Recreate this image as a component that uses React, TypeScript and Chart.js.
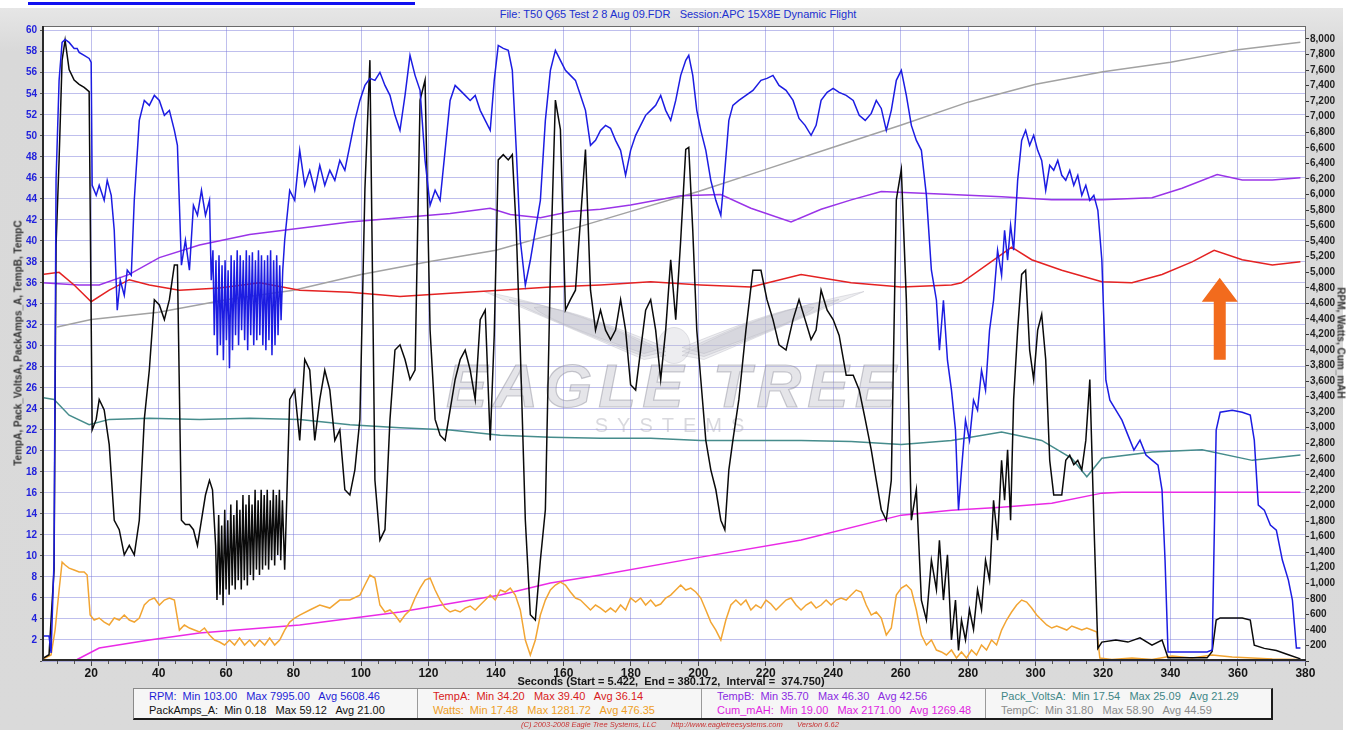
import React, { useEffect, useRef } from 'react';
import { Chart, registerables } from 'chart.js';

Chart.register(...registerables);

// ---------- axes ----------
const X_MIN = 5.422;
const X_MAX = 380.172;
const X_STEP = 20;
const LEFT_MAX = 60.45;
const LEFT_STEP = 2;
const RIGHT_MAX = 8167;
const RIGHT_STEP = 200;

// ---------- series: [seconds, value] ----------
const rpm: [number, number][] = [
  [5.42,321],[7.51,321],[8.11,103],[9.00,1298],[9.59,6182],[10.49,7468],[11.38,7956],[12.27,7995],[13.46,7956],[14.95,7879],[15.84,7879],[16.43,7828],[17.92,7789],[19.40,7750],[20.00,7699],[20.30,6118],[21.49,5989],[22.38,6118],[23.86,5925],[24.76,6182],[25.95,5989],[26.84,5540],[27.73,4511],[28.62,4897],[29.81,4704],[30.70,5026],[31.89,4961],[32.78,5925],[34.27,6953],[35.75,7210],[37.24,7146],[38.73,7275],[40.21,7210],[41.70,7018],[43.19,7082],[44.67,6825],[45.57,6632],[46.76,5090],[47.94,5411],[49.13,5026],[50.32,5861],[51.51,5732],[52.70,6054],[53.89,5732],[55.08,5925],[55.60,4897],
  [56.1,5283],[56.5,4190],[57.0,5154],[57.4,3933],[57.9,5218],[58.3,4061],[58.8,5090],[59.2,3869],[59.7,5154],[60.1,4126],[60.6,5026],[61.0,3766],[61.5,5218],[61.9,3997],[62.4,5154],[62.8,4190],[63.3,5283],[63.7,4061],[64.2,5218],[64.6,4254],[65.1,5154],[65.5,4126],[66.0,5283],[66.4,3997],[66.9,5218],[67.3,4190],[67.8,5257],[68.2,4061],[68.7,5154],[69.1,4126],[69.6,5283],[70.0,4190],[70.5,5218],[70.9,4061],[71.4,5154],[71.8,3997],[72.3,5218],[72.7,4126],[73.2,5283],[73.6,3933],[74.1,5154],[74.5,4061],[75.0,5218],[75.4,4190],[75.9,5090],[76.3,4383],[76.8,5026],
  [77.37,5411],[78.86,6054],[80.35,5925],[81.83,6568],[83.32,6118],[84.80,6311],[86.29,6054],[87.78,6375],[89.26,6118],[90.75,6311],[92.24,6182],[93.72,6439],[95.21,6311],[96.70,6632],[98.18,6953],[99.67,7210],[101.16,7403],[102.64,7493],[104.13,7468],[105.61,7571],[107.10,7403],[108.59,7275],[110.07,7018],[111.56,6825],[113.05,7275],[114.53,7789],[116.02,7532],[117.51,7339],[118.99,6439],[120.48,5861],[121.97,6054],[123.45,5925],[124.94,6568],[126.42,7210],[127.91,7403],[129.40,7339],[130.88,7275],[132.37,7210],[133.86,7275],[135.34,7082],[136.83,6953],[138.31,6825],[139.50,7468],[140.69,7917],[142.18,7879],[143.66,7853],[144.86,7596],[146.04,6568],[147.23,5411],[148.72,4833],[150.20,5154],[151.69,5540],[153.18,5925],[154.66,6953],[156.15,7596],[157.63,7853],[159.12,7725],[160.61,7596],[162.09,7532],[163.58,7468],[165.07,7275],[166.55,7082],[168.04,6632],[169.53,6696],[171.01,6825],[172.50,6889],[173.98,6851],[175.47,6696],[176.96,6568],[178.44,6247],[179.93,6568],[181.42,6761],[182.90,6889],[184.39,7018],[185.88,7082],[187.36,7146],[188.85,7275],[190.33,7082],[191.82,6953],[193.31,7210],[194.79,7532],[196.28,7725],[197.17,7789],[198.36,7532],[199.55,7082],[200.74,6825],[202.23,6568],[203.71,6182],[205.20,5925],[206.68,5732],[207.87,6311],[209.06,6953],[210.25,7146],[212.03,7210],[214.12,7275],[216.20,7339],[218.58,7468],[220.36,7493],[222.14,7532],[223.93,7403],[226.01,7339],[228.09,7210],[229.87,6979],[231.66,6889],[233.44,6761],[234.93,6889],[236.41,7210],[238.20,7313],[239.98,7365],[241.76,7313],[243.85,7275],[245.93,7210],[247.71,7018],[249.49,6953],[251.28,7043],[252.77,7210],[254.25,7107],[255.74,6825],[257.22,7082],[258.71,7468],[260.19,7596],[261.68,7275],[263.17,6889],[264.65,6696],[266.14,6568],[267.63,5989],[269.11,5026],[270.60,4640],[271.49,3997],[272.68,4640],[273.87,3869],[275.06,3483],[276.25,2969],[277.14,1941],[278.03,2455],[279.22,3098],[280.41,2841],[281.60,3355],[282.79,3226],[283.97,3740],[285.16,3483],[286.35,4254],[287.54,4640],[288.73,5283],[289.92,4961],[290.81,5540],[291.70,5154],[292.59,5604],[293.49,5283],[294.68,6182],[295.87,6696],[297.05,6825],[298.24,6632],[299.43,6761],[300.62,6568],[301.81,6439],[303.00,6054],[304.19,6375],[305.38,6311],[306.57,6439],[307.76,6247],[308.95,6182],[310.13,6311],[311.32,6118],[312.51,6247],[313.70,5989],[314.89,6118],[316.08,5925],[317.27,5989],[318.46,5797],[319.65,5154],[320.84,3612],[322.03,3355],[323.81,3226],[325.60,3098],[327.38,2905],[329.16,2712],[330.95,2841],[332.73,2648],[334.51,2583],[336.30,2519],[337.49,2198],[338.38,1298],[339.27,116],[350.86,116],[352.35,141],[353.54,2969],[354.73,3200],[358.30,3226],[361.27,3200],[363.65,3162],[364.84,2841],[366.03,2005],[367.81,1941],[369.60,1748],[371.38,1684],[373.16,1298],[374.95,1041],[376.14,784],[377.33,167],[378.52,167],
];

const packAmps: [number, number][] = [
  [5.42,0.2],[7.51,0.6],[8.11,3.9],[9.00,8.7],[9.59,39.6],[10.49,47.7],[11.38,57.2],[12.27,59.1],[13.46,56.3],[14.95,55.3],[16.43,54.9],[17.92,54.6],[19.40,54.2],[20.30,22.0],[21.49,23.0],[22.38,24.9],[23.86,23.9],[25.35,20.6],[26.84,13.4],[28.32,12.5],[29.81,10.1],[31.30,11.0],[32.78,10.1],[34.27,13.4],[35.75,23.0],[37.24,27.7],[38.73,34.4],[40.21,33.9],[41.70,32.5],[43.19,34.4],[44.67,37.7],[45.57,37.7],[46.76,13.4],[47.94,13.0],[49.13,13.0],[50.32,12.5],[51.51,11.0],[52.70,13.4],[53.89,15.8],[55.08,17.2],[55.97,16.3],
  [56.9,11.0],[57.3,5.8],[57.8,13.9],[58.2,6.3],[58.7,12.9],[59.1,5.3],[59.6,14.4],[60.0,6.8],[60.5,13.4],[60.9,6.3],[61.4,14.9],[61.8,7.2],[62.3,13.9],[62.7,6.8],[63.2,15.3],[63.6,7.7],[64.1,14.4],[64.5,6.8],[65.0,15.8],[65.4,7.7],[65.9,14.9],[66.3,7.2],[66.8,15.8],[67.2,8.2],[67.7,14.9],[68.1,7.7],[68.6,16.3],[69.0,8.7],[69.5,15.3],[69.9,8.2],[70.4,16.3],[70.8,8.7],[71.3,15.8],[71.7,9.1],[72.2,16.3],[72.6,8.7],[73.1,15.3],[73.5,9.6],[74.0,16.3],[74.4,9.1],[74.9,15.8],[75.3,10.1],[75.8,16.3],[76.2,9.6],[76.7,15.3],[77.37,8.7],
  [78.86,24.9],[80.35,25.8],[81.83,21.0],[83.32,28.7],[84.80,27.7],[86.29,21.0],[87.78,24.9],[89.26,27.7],[90.75,25.8],[92.24,21.0],[93.72,22.0],[95.21,16.3],[96.70,15.8],[98.18,18.2],[99.67,23.0],[101.16,44.9],[102.64,57.2],[104.13,17.2],[105.61,11.5],[107.10,12.5],[108.59,23.0],[110.07,29.6],[111.56,30.1],[113.05,28.7],[114.53,26.8],[116.02,27.7],[117.51,53.4],[118.99,55.3],[120.48,31.5],[121.97,23.0],[123.45,21.5],[124.94,21.0],[126.42,23.9],[127.91,26.8],[129.40,28.7],[130.88,29.6],[132.37,27.7],[133.86,24.9],[135.34,32.5],[136.83,33.4],[138.31,21.0],[139.50,31.0],[140.69,47.7],[142.18,48.2],[143.66,47.7],[144.86,48.2],[146.04,41.0],[147.23,29.6],[148.72,13.4],[150.20,4.4],[151.69,3.9],[153.18,9.6],[154.66,14.4],[156.15,37.2],[157.63,53.4],[159.12,50.6],[160.61,33.4],[162.09,34.4],[163.58,35.3],[165.07,42.0],[166.55,48.7],[168.04,35.3],[169.53,31.5],[171.01,33.4],[172.50,31.5],[173.98,30.6],[175.47,31.5],[176.96,34.4],[178.44,31.5],[179.93,26.3],[181.42,25.8],[182.90,29.6],[184.39,33.4],[185.88,34.4],[187.36,31.5],[188.85,26.8],[190.33,31.5],[191.82,38.2],[193.31,32.5],[194.79,40.1],[196.28,48.7],[197.17,48.9],[198.36,41.0],[199.55,31.5],[200.74,26.8],[202.23,21.0],[203.71,18.2],[205.20,16.3],[206.68,13.4],[207.87,12.5],[209.06,18.2],[210.25,21.0],[212.03,24.9],[214.12,31.5],[216.20,37.2],[218.58,37.2],[220.36,34.4],[222.14,32.5],[223.93,30.1],[226.01,29.6],[228.09,32.5],[229.87,34.4],[231.66,32.5],[233.44,30.6],[234.93,31.5],[236.41,35.3],[238.20,33.4],[239.98,32.5],[241.76,31.0],[243.85,27.2],[245.93,27.2],[247.71,25.8],[249.49,23.0],[251.28,20.1],[252.77,17.2],[254.25,14.4],[255.74,13.4],[257.22,17.2],[258.71,43.9],[260.19,46.8],[261.68,34.4],[263.17,13.4],[264.65,16.3],[266.14,5.8],[267.63,3.9],[269.11,9.6],[270.60,6.8],[271.49,11.5],[272.68,5.8],[273.87,10.1],[275.06,2.0],[276.25,5.8],[277.14,1.0],[278.03,3.9],[279.22,2.0],[280.41,4.9],[281.60,3.0],[282.79,6.8],[283.97,4.9],[285.16,9.6],[286.35,7.7],[287.54,15.3],[288.73,11.5],[289.92,19.1],[290.81,15.3],[291.70,20.1],[292.59,13.4],[293.49,24.9],[294.68,31.5],[295.87,36.8],[297.05,37.2],[298.24,29.6],[299.43,26.8],[300.62,31.5],[301.81,33.0],[303.00,28.7],[304.19,19.1],[305.38,15.8],[306.57,15.8],[307.76,15.8],[308.95,19.1],[310.13,19.6],[311.32,18.7],[312.51,19.1],[313.70,18.2],[314.89,21.0],[316.08,26.8],[317.27,13.4],[318.46,1.2],[319.65,1.8],[323.81,2.0],[327.38,1.8],[330.95,2.2],[334.51,1.5],[337.49,2.0],[339.27,0.3],[350.86,0.3],[352.35,0.9],[353.54,3.9],[354.73,4.1],[361.27,4.1],[363.65,3.9],[364.84,1.5],[367.81,1.2],[371.38,1.0],[374.95,0.6],[378.52,0.2],
];

const watts: [number, number][] = [
  [5.42,18],[8.11,77],[9.30,398],[10.49,913],[11.38,1272],[12.27,1234],[13.46,1195],[14.95,1170],[16.43,1144],[17.92,1144],[18.81,1105],[19.70,591],[20.89,527],[22.38,553],[23.86,501],[25.35,463],[26.84,553],[28.32,527],[29.81,591],[31.30,527],[32.78,501],[34.27,553],[35.75,720],[37.24,784],[38.73,810],[40.21,720],[41.70,784],[43.19,810],[44.67,784],[46.16,398],[47.64,463],[49.13,424],[50.62,398],[52.11,373],[53.59,424],[55.08,334],[56.57,270],[58.05,244],[59.54,206],[61.02,270],[62.51,206],[63.99,296],[65.48,206],[66.97,270],[68.45,193],[69.94,270],[71.43,206],[72.91,296],[74.40,206],[75.89,270],[77.37,398],[78.86,501],[80.35,553],[81.83,591],[84.80,656],[87.78,720],[90.75,681],[93.72,784],[96.70,784],[99.67,848],[101.16,977],[102.64,1105],[104.13,1067],[105.61,720],[107.10,630],[108.59,656],[110.07,591],[111.56,501],[113.05,591],[114.53,656],[116.02,810],[117.51,938],[118.99,1041],[120.48,1067],[121.97,913],[123.45,784],[124.94,681],[126.42,630],[127.91,656],[129.40,630],[130.88,681],[132.37,707],[133.86,656],[135.34,720],[136.83,784],[138.31,848],[139.80,784],[141.29,913],[142.77,887],[144.26,938],[145.74,848],[147.23,656],[148.72,270],[150.20,77],[151.69,270],[153.18,591],[154.66,784],[156.15,913],[157.63,977],[159.12,1015],[160.61,977],[162.09,887],[163.58,810],[165.07,784],[166.55,720],[168.04,656],[169.53,720],[171.01,681],[172.50,630],[173.98,681],[175.47,630],[176.96,720],[178.44,656],[179.93,810],[181.42,758],[182.90,810],[184.39,720],[185.88,784],[187.36,707],[188.85,733],[190.33,810],[191.82,848],[193.31,913],[194.79,977],[196.28,913],[197.77,938],[199.25,887],[200.74,810],[202.23,656],[203.71,501],[205.20,398],[206.68,270],[208.17,527],[209.66,720],[211.14,784],[212.63,720],[214.12,784],[215.60,656],[217.09,720],[218.58,681],[220.07,784],[221.55,733],[223.04,656],[224.53,720],[226.01,784],[227.50,810],[228.99,720],[230.47,656],[231.96,720],[233.44,758],[234.93,681],[236.41,720],[237.90,784],[239.39,720],[240.87,784],[242.36,810],[243.85,784],[245.33,848],[246.82,913],[248.31,887],[249.79,720],[251.28,591],[252.77,630],[254.25,553],[255.74,334],[257.22,424],[258.71,848],[260.19,938],[261.68,977],[263.17,913],[264.65,656],[266.14,334],[267.63,206],[269.11,270],[270.60,141],[272.08,116],[273.57,77],[275.06,141],[276.55,39],[278.03,116],[279.52,39],[281.00,141],[282.49,77],[283.97,206],[285.46,141],[286.95,270],[288.43,206],[289.92,398],[291.41,527],[292.89,630],[294.38,720],[295.87,784],[297.35,758],[298.84,681],[300.33,591],[301.81,527],[303.30,463],[304.79,424],[306.27,450],[307.76,424],[309.25,398],[310.73,450],[312.22,424],[313.70,398],[315.19,424],[316.68,398],[318.16,373],[319.06,39],[322.62,18],[328.57,39],[334.51,18],[340.46,64],[346.40,39],[352.35,77],[358.30,51],[364.24,39],[370.19,26],[378.52,18],
];

const tempA: [number, number][] = [
  [5.42,36.8],[10.49,37.0],[14.95,35.8],[20.0,34.2],[25.35,35.3],[31.30,36.3],[37.24,35.8],[46.16,35.3],[58.05,35.5],[69.94,36.0],[81.83,35.3],[96.70,35.1],[111.56,34.7],[126.42,35.0],[141.29,35.3],[156.15,35.6],[171.01,35.8],[185.88,36.1],[200.74,35.8],[215.60,35.6],[230.47,36.8],[245.33,36.0],[260.19,35.6],[275.06,35.8],[278.03,36.0],[289.92,38.7],[292.89,39.4],[298.84,38.2],[307.76,37.2],[319.65,36.1],[328.57,36.0],[337.49,36.8],[346.40,38.0],[352.94,39.1],[361.27,38.2],[370.19,37.7],[378.52,38.0],
];

const tempB: [number, number][] = [
  [5.42,36.0],[16.43,35.8],[22.38,35.8],[31.30,36.8],[40.21,38.4],[52.11,39.6],[66.97,40.6],[81.83,41.2],[96.70,41.8],[111.56,42.2],[126.42,42.6],[138.31,43.1],[144.26,42.5],[153.18,42.2],[162.09,42.8],[171.01,43.0],[179.93,43.4],[194.79,44.3],[206.68,44.4],[215.60,43.1],[227.50,41.8],[236.41,43.0],[245.33,43.9],[254.25,44.7],[275.06,44.4],[289.92,44.2],[304.79,43.9],[319.65,43.9],[334.51,44.1],[343.43,45.0],[353.83,46.3],[361.27,45.8],[370.19,45.8],[378.52,46.0],
];

const cumMah: [number, number][] = [
  [15.84,19],[22.38,167],[37.24,270],[52.11,360],[81.83,463],[111.56,630],[141.29,848],[156.15,1002],[171.01,1105],[200.74,1336],[230.47,1555],[260.19,1876],[275.06,1940],[289.92,1979],[304.79,2030],[319.65,2159],[325.60,2171],[378.52,2171],
];

const packVolts: [number, number][] = [
  [5.42,25.09],[9.00,24.9],[13.46,23.4],[19.40,22.5],[25.35,23.0],[37.24,23.1],[52.11,23.0],[66.97,23.1],[81.83,23.0],[96.70,22.5],[111.56,22.2],[126.42,22.0],[141.29,21.5],[156.15,21.3],[171.01,21.2],[185.88,21.2],[200.74,21.0],[215.60,21.0],[230.47,21.0],[245.33,20.9],[260.19,20.6],[275.06,21.0],[289.92,21.8],[301.81,21.0],[310.73,19.3],[315.19,17.54],[319.65,19.3],[334.51,19.9],[349.38,20.1],[364.24,19.1],[378.52,19.6],
];

const tempC: [number, number][] = [
  [9.9,31.8],[20,32.5],[40,33.2],[60,34.4],[80,35.3],[100,36.8],[120,38.0],[140,39.1],[160,40.9],[180,42.8],[200,44.7],[220,46.8],[240,48.9],[260,51.0],[280,53.2],[300,54.9],[320,56.1],[340,57.0],[360,58.2],[378.5,58.9],
];

// annotation arrow (seconds, left-axis units)
const ARROW_T = 354.6;
const ARROW_TIP = 36.48;
const ARROW_HEAD_BASE = 34.19;
const ARROW_TAIL = 28.67;

const seriesList = [
  { label: 'RPM', points: rpm, color: '#1c1ce2', axis: 'yR' },
  { label: 'PackAmps_A', points: packAmps, color: '#0a0a0a', axis: 'yL' },
  { label: 'TempA', points: tempA, color: '#e42222', axis: 'yL' },
  { label: 'Watts', points: watts, color: '#f2a533', axis: 'yR' },
  { label: 'TempB', points: tempB, color: '#9a34e8', axis: 'yL' },
  { label: 'Cum_mAH', points: cumMah, color: '#ea2ae6', axis: 'yR' },
  { label: 'Pack_VoltsA', points: packVolts, color: '#468c8c', axis: 'yL' },
  { label: 'TempC', points: tempC, color: '#a2a2a2', axis: 'yL' },
];

const legendCells = [
  [
    { text: 'RPM:  Min 103.00   Max 7995.00   Avg 5608.46', color: '#1e1ed6' },
    { text: 'PackAmps_A:  Min 0.18   Max 59.12   Avg 21.00', color: '#111111' },
  ],
  [
    { text: 'TempA:  Min 34.20   Max 39.40   Avg 36.14', color: '#d81c1c' },
    { text: 'Watts:  Min 17.48   Max 1281.72   Avg 476.35', color: '#ee9e26' },
  ],
  [
    { text: 'TempB:  Min 35.70   Max 46.30   Avg 42.56', color: '#8a2be2' },
    { text: 'Cum_mAH:  Min 19.00   Max 2171.00   Avg 1269.48', color: '#e01ee0' },
  ],
  [
    { text: 'Pack_VoltsA:  Min 17.54   Max 25.09   Avg 21.29', color: '#3f8686' },
    { text: 'TempC:  Min 31.80   Max 58.90   Avg 44.59', color: '#8c8c8c' },
  ],
];

const FONT = "'Liberation Sans', Arial, sans-serif";
const NARROW = "'Liberation Sans Narrow', 'Liberation Sans', Arial, sans-serif";

function stepTicks(from: number, to: number, step: number) {
  const out: { value: number }[] = [];
  for (let v = from; v <= to + 1e-9; v += step) out.push({ value: v });
  return out;
}

const decorPlugin = {
  id: 'decor',
  beforeDraw(chart: any) {
    const { ctx, chartArea: a } = chart;
    ctx.save();
    ctx.fillStyle = '#ffffff';
    ctx.fillRect(a.left, a.top, a.right - a.left, a.bottom - a.top);
    ctx.restore();
  },
  beforeDatasetsDraw(chart: any) {
    const { ctx, chartArea: a } = chart;
    const cx = (a.left + a.right) / 2;
    const cy = (a.top + a.bottom) / 2;
    ctx.save();
    ctx.beginPath();
    ctx.rect(a.left, a.top, a.right - a.left, a.bottom - a.top);
    ctx.clip();
    ctx.fillStyle = 'rgba(196,196,206,0.30)';
    ctx.strokeStyle = 'rgba(170,170,182,0.32)';
    ctx.lineWidth = 1;
    for (const s of [-1, 1]) {
      for (let k = 0; k < 3; k++) {
        ctx.beginPath();
        ctx.moveTo(cx + s * 8, cy + 12 - k * 4);
        ctx.quadraticCurveTo(cx + s * (80 + k * 20), cy - 30 - k * 6, cx + s * (190 - k * 25), cy - 52 + k * 8);
        ctx.quadraticCurveTo(cx + s * (110 + k * 10), cy - 18 - k * 3, cx + s * 30, cy + 16 - k * 3);
        ctx.closePath();
        ctx.fill();
        ctx.stroke();
      }
    }
    ctx.beginPath();
    ctx.ellipse(cx, cy + 2, 16, 18, 0, 0, Math.PI * 2);
    ctx.fill();
    ctx.stroke();
    ctx.textAlign = 'center';
    ctx.textBaseline = 'middle';
    ctx.font = `italic bold 62px ${FONT}`;
    (ctx as any).letterSpacing = '6px';
    ctx.fillStyle = 'rgba(186,186,196,0.38)';
    ctx.fillText('EAGLE TREE', cx, cy + 46);
    ctx.strokeStyle = 'rgba(140,140,152,0.45)';
    ctx.lineWidth = 1.2;
    ctx.strokeText('EAGLE TREE', cx, cy + 46);
    ctx.font = `20px ${FONT}`;
    (ctx as any).letterSpacing = '9px';
    ctx.fillStyle = 'rgba(170,170,182,0.45)';
    ctx.fillText('SYSTEMS', cx, cy + 83);
    (ctx as any).letterSpacing = '0px';
    ctx.restore();
  },
  afterDatasetsDraw(chart: any) {
    const { ctx, chartArea: a, scales } = chart;
    const xs = scales.x;
    const yl = scales.yL;
    const ax = xs.getPixelForValue(ARROW_T);
    const yTip = yl.getPixelForValue(ARROW_TIP);
    const yBase = yl.getPixelForValue(ARROW_HEAD_BASE);
    const yTail = yl.getPixelForValue(ARROW_TAIL);
    ctx.save();
    ctx.fillStyle = '#f26b1d';
    ctx.beginPath();
    ctx.moveTo(ax, yTip);
    ctx.lineTo(ax + 18, yBase);
    ctx.lineTo(ax + 6, yBase);
    ctx.lineTo(ax + 6, yTail);
    ctx.lineTo(ax - 6, yTail);
    ctx.lineTo(ax - 6, yBase);
    ctx.lineTo(ax - 18, yBase);
    ctx.closePath();
    ctx.fill();
    ctx.strokeStyle = '#6a6a6a';
    ctx.lineWidth = 1;
    ctx.strokeRect(a.left + 0.5, a.top + 0.5, a.right - a.left - 1, a.bottom - a.top - 1);
    ctx.strokeStyle = '#2a2a2a';
    ctx.lineWidth = 2;
    ctx.beginPath();
    ctx.moveTo(a.left + 1, a.top);
    ctx.lineTo(a.left + 1, a.bottom - 1);
    ctx.lineTo(a.right, a.bottom - 1);
    ctx.stroke();
    ctx.strokeStyle = '#555';
    ctx.lineWidth = 1;
    ctx.beginPath();
    for (let t = 10; t <= X_MAX; t += 5) {
      if (t % X_STEP === 0) continue;
      const px = Math.round(xs.getPixelForValue(t)) + 0.5;
      ctx.moveTo(px, a.bottom);
      ctx.lineTo(px, a.bottom + 3);
    }
    ctx.stroke();
    ctx.restore();
  },
};

export default function App() {
  const ref = useRef<HTMLCanvasElement>(null);

  useEffect(() => {
    const canvas = ref.current;
    if (!canvas) return;
    const gridColor = 'rgba(112,112,216,0.45)';
    const chart = new Chart(canvas, {
      type: 'line',
      data: {
        datasets: seriesList.map((s) => ({
          label: s.label,
          data: s.points.map(([x, y]) => ({ x, y })),
          borderColor: s.color,
          backgroundColor: s.color,
          borderWidth: 1.5,
          pointRadius: 0,
          tension: 0,
          fill: false,
          yAxisID: s.axis,
        })),
      },
      options: {
        animation: false,
        responsive: false,
        maintainAspectRatio: false,
        layout: { padding: { top: 26, left: 0, right: 0, bottom: 0 } },
        plugins: {
          legend: { display: false },
          tooltip: { enabled: false },
          title: { display: false },
        },
        scales: {
          x: {
            type: 'linear',
            min: X_MIN,
            max: X_MAX,
            border: { display: false },
            grid: { color: gridColor, tickColor: '#444', tickLength: 5, lineWidth: 1 },
            ticks: {
              autoSkip: false,
              maxRotation: 0,
              padding: 0,
              color: '#151515',
              font: { family: NARROW, size: 12, weight: 'bold' },
              callback: (v: any) => String(v),
            },
            afterBuildTicks: (s: any) => { s.ticks = stepTicks(X_STEP, X_MAX, X_STEP); },
            afterFit: (s: any) => { s.height = 69; },
          },
          yL: {
            type: 'linear',
            position: 'left',
            min: 0,
            max: LEFT_MAX,
            border: { display: false },
            grid: { color: gridColor, tickColor: '#555', tickLength: 2, lineWidth: 1 },
            ticks: {
              autoSkip: false,
              padding: 3,
              color: '#2222dc',
              font: { family: FONT, size: 10, weight: 'bold' },
              callback: (v: any) => (v === 0 ? '' : String(v)),
            },
            afterBuildTicks: (s: any) => { s.ticks = stepTicks(0, LEFT_MAX, LEFT_STEP); },
            afterFit: (s: any) => { s.width = 42; },
          },
          yR: {
            type: 'linear',
            position: 'right',
            min: 0,
            max: RIGHT_MAX,
            border: { display: false },
            grid: { drawOnChartArea: false, tickColor: '#333', tickLength: 3 },
            ticks: {
              autoSkip: false,
              padding: 1,
              color: '#222',
              font: { family: FONT, size: 10, weight: 'bold' },
              callback: (v: any) => (v === 0 ? '' : Number(v).toLocaleString('en-US')),
            },
            afterBuildTicks: (s: any) => { s.ticks = stepTicks(0, RIGHT_MAX, RIGHT_STEP); },
            afterFit: (s: any) => { s.width = 48; },
          },
        },
      } as any,
      plugins: [decorPlugin],
    });
    return () => chart.destroy();
  }, []);

  return (
    <div style={{ position: 'absolute', left: 0, top: 0, width: 1354, height: 730, background: '#ffffff', overflow: 'hidden', fontFamily: FONT }}>
      <div style={{ position: 'absolute', left: 0, top: 8, width: 1343, height: 722, background: 'linear-gradient(#e6e6e6, #d9d9d9 6%, #dadada)' }} />
      <div style={{ position: 'absolute', left: 28, top: 2, width: 387, height: 3, background: '#1010f0' }} />
      <div style={{ position: 'absolute', left: 678, top: 8, transform: 'translateX(-50%)', whiteSpace: 'pre', fontSize: 11, lineHeight: '13px', color: '#2030d0' }}>
        {'File: T50 Q65 Test 2 8 Aug 09.FDR   Session:APC 15X8E Dynamic Flight'}
      </div>
      <canvas ref={ref} width={1354} height={730} style={{ position: 'absolute', left: 0, top: 0, width: 1354, height: 730 }} />
      <div style={{ position: 'absolute', left: 18, top: 343, transform: 'translate(-50%, -50%) rotate(-90deg)', whiteSpace: 'nowrap', fontSize: 10, fontWeight: 'bold', color: '#333' }}>
        TempA, Pack_VoltsA, PackAmps_A, TempB, TempC
      </div>
      <div style={{ position: 'absolute', left: 1341, top: 343, transform: 'translate(-50%, -50%) rotate(90deg)', whiteSpace: 'nowrap', fontSize: 10, fontWeight: 'bold', color: '#333' }}>
        RPM, Watts, Cum_mAH
      </div>
      <div style={{ position: 'absolute', left: 671, top: 681, transform: 'translate(-50%, -50%)', whiteSpace: 'pre', fontFamily: NARROW, fontSize: 11, fontWeight: 'bold', color: '#151515' }}>
        {'Seconds (Start = 5.422,  End = 380.172,  Interval =  374.750)'}
      </div>
      <div style={{ position: 'absolute', left: 133, top: 688, width: 1137, height: 29, background: '#f6f6f6', borderTop: '1px solid #8a8a8a', borderLeft: '1px solid #8a8a8a', borderRight: '2px solid #1a1a1a', borderBottom: '2px solid #1a1a1a', display: 'flex' }}>
        {legendCells.map((cell, i) => (
          <div key={i} style={{ width: 284, height: 29, boxSizing: 'border-box', borderRight: i < legendCells.length - 1 ? '1px solid #9a9a9a' : 'none', paddingLeft: 15, paddingTop: 1 }}>
            {cell.map((row, j) => (
              <div key={j} style={{ whiteSpace: 'pre', fontSize: 11, lineHeight: '13.5px', color: row.color }}>{row.text}</div>
            ))}
          </div>
        ))}
      </div>
      <div style={{ position: 'absolute', left: 521, top: 720, whiteSpace: 'pre', fontSize: 7.5, fontStyle: 'italic', color: '#c83232', lineHeight: '9px' }}>
        (C) 2003-2008 Eagle Tree Systems, LLC
      </div>
      <div style={{ position: 'absolute', left: 671, top: 720, whiteSpace: 'pre', fontSize: 7.5, fontStyle: 'italic', color: '#c83232', lineHeight: '9px' }}>
        http://www.eagletreesystems.com
      </div>
      <div style={{ position: 'absolute', left: 797, top: 720, whiteSpace: 'pre', fontSize: 7.5, fontStyle: 'italic', color: '#c83232', lineHeight: '9px' }}>
        Version 6.62
      </div>
    </div>
  );
}
